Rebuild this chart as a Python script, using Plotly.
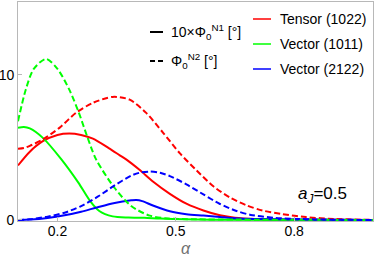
import plotly.graph_objects as go

# ---- data ----
tensor_n1_a = [0.10, 0.13, 0.163, 0.20, 0.23, 0.26, 0.29, 0.33, 0.358, 0.375, 0.408, 0.442, 0.485, 0.527, 0.57, 0.612, 0.65, 0.70, 0.80, 1.00]
tensor_n1_v = [3.75, 4.70, 5.42, 5.85, 5.95, 5.85, 5.60, 4.95, 4.45, 4.15, 3.45, 2.65, 1.80, 1.12, 0.65, 0.32, 0.15, 0.06, 0.01, 0.0]

tensor_n2_a = [0.10, 0.115, 0.13, 0.163, 0.205, 0.247, 0.29, 0.34, 0.383, 0.425, 0.468, 0.51, 0.553, 0.596, 0.638, 0.68, 0.72, 0.77, 0.83, 0.90, 1.00]
tensor_n2_v = [4.90, 4.95, 5.10, 5.54, 6.34, 7.37, 8.06, 8.47, 8.28, 7.37, 6.00, 4.60, 3.40, 2.30, 1.54, 1.00, 0.65, 0.40, 0.20, 0.07, 0.01]

vec1011_n1_a = [0.10, 0.115, 0.13, 0.163, 0.21, 0.253, 0.283, 0.306, 0.34, 0.38, 0.42, 0.46, 0.52, 0.60, 1.00]
vec1011_n1_v = [6.34, 6.40, 6.30, 5.65, 4.17, 2.57, 1.30, 0.62, 0.25, 0.17, 0.15, 0.10, 0.05, 0.02, 0.0]

vec1011_n2_a = [0.10, 0.12, 0.14, 0.171, 0.20, 0.23, 0.254, 0.276, 0.298, 0.345, 0.387, 0.434, 0.48, 0.55, 1.00]
vec1011_n2_v = [6.80, 9.00, 10.40, 11.08, 10.40, 8.97, 7.40, 5.70, 4.17, 2.20, 0.96, 0.30, 0.10, 0.05, 0.0]

vec2122_n1_a = [0.10, 0.13, 0.175, 0.218, 0.26, 0.302, 0.345, 0.387, 0.40, 0.415, 0.442, 0.485, 0.527, 0.57, 0.612, 0.65, 0.70, 0.80, 1.00]
vec2122_n1_v = [0.0, 0.03, 0.14, 0.32, 0.57, 0.88, 1.17, 1.35, 1.38, 1.30, 1.00, 0.60, 0.40, 0.30, 0.20, 0.12, 0.07, 0.03, 0.0]

vec2122_n2_a = [0.10, 0.13, 0.175, 0.218, 0.26, 0.302, 0.345, 0.387, 0.408, 0.434, 0.46, 0.485, 0.527, 0.57, 0.612, 0.654, 0.69, 0.75, 0.85, 1.00]
vec2122_n2_v = [0.0, 0.05, 0.23, 0.50, 0.96, 1.60, 2.38, 3.05, 3.25, 3.33, 3.25, 3.02, 2.45, 1.76, 1.10, 0.62, 0.35, 0.15, 0.04, 0.0]

x_ticks = [0.2, 0.5, 0.8]
x_tick_labels = ["0.2", "0.5", "0.8"]
y_ticks = [0, 10]
y_tick_labels = ["0", "10"]

series_names = ["Tensor (1022)", "Vector (1011)", "Vector (2122)"]
series_colors = ["#ff0000", "#00ff00", "#0000ff"]

FONT = "Liberation Sans, Arial, sans-serif"

fig = go.Figure()
solid = [(tensor_n1_a, tensor_n1_v), (vec1011_n1_a, vec1011_n1_v), (vec2122_n1_a, vec2122_n1_v)]
dashed = [(tensor_n2_a, tensor_n2_v), (vec1011_n2_a, vec1011_n2_v), (vec2122_n2_a, vec2122_n2_v)]
for (a, v), c, n in zip(solid, series_colors, series_names):
    fig.add_trace(go.Scatter(x=a, y=v, mode="lines", name=n,
                             line=dict(color=c, width=2, shape="spline", smoothing=0.8),
                             showlegend=False, hoverinfo="skip"))
for (a, v), c, n in zip(dashed, series_colors, series_names):
    fig.add_trace(go.Scatter(x=a, y=v, mode="lines", name=n,
                             line=dict(color=c, width=2, dash="6px,3px", shape="spline", smoothing=0.8),
                             showlegend=False, hoverinfo="skip"))

axis_common = dict(showline=True, linecolor="#b8b8b8", linewidth=1, mirror=True,
                   ticks="inside", ticklen=4, tickcolor="#b8b8b8",
                   showgrid=False, zeroline=False, automargin=False,
                   tickfont=dict(family=FONT, size=14, color="#000000"))
fig.update_xaxes(range=[0.1, 1.0], tickvals=x_ticks, ticktext=x_tick_labels,
                 ticklabelstandoff=-3, **axis_common)
fig.update_yaxes(range=[-0.07, 15], tickvals=y_ticks, ticktext=y_tick_labels, **axis_common)

# custom legend (paper coordinates)
def px2paper_x(px):
    return (px - 18) / 355.0

def px2paper_y(py):
    return (221 - py) / 219.0

shapes = []
annotations = []
# line-style legend
shapes.append(dict(type="line", xref="paper", yref="paper",
                   x0=px2paper_x(150), x1=px2paper_x(163), y0=px2paper_y(32), y1=px2paper_y(32),
                   line=dict(color="black", width=2)))
shapes.append(dict(type="line", xref="paper", yref="paper",
                   x0=px2paper_x(150), x1=px2paper_x(163), y0=px2paper_y(61), y1=px2paper_y(61),
                   line=dict(color="black", width=2, dash="5px,3px")))
annotations.append(dict(xref="paper", yref="paper", x=px2paper_x(169), y=px2paper_y(32),
                        xanchor="left", yanchor="middle", showarrow=False,
                        text="10×Φ<sub>0</sub><sup>N1</sup> [°]",
                        font=dict(family=FONT, size=14, color="black")))
annotations.append(dict(xref="paper", yref="paper", x=px2paper_x(169), y=px2paper_y(61),
                        xanchor="left", yanchor="middle", showarrow=False,
                        text="Φ<sub>0</sub><sup>N2</sup> [°]",
                        font=dict(family=FONT, size=14, color="black")))
# colour legend
for i, (n, c) in enumerate(zip(series_names, series_colors)):
    py = 19 + i * 25
    shapes.append(dict(type="line", xref="paper", yref="paper",
                       x0=px2paper_x(253), x1=px2paper_x(271), y0=px2paper_y(py), y1=px2paper_y(py),
                       line=dict(color=c, width=1.5)))
    annotations.append(dict(xref="paper", yref="paper", x=px2paper_x(278), y=px2paper_y(py),
                            xanchor="left", yanchor="middle", showarrow=False, text=n,
                            font=dict(family=FONT, size=14, color="black")))

annotations.append(dict(xref="paper", yref="paper", x=px2paper_x(296), y=px2paper_y(195),
                        xanchor="left", yanchor="middle", showarrow=False,
                        text="<i>a</i><sub><i>J</i></sub>=0.5",
                        font=dict(family=FONT, size=17, color="black")))
annotations.append(dict(xref="paper", yref="paper", x=px2paper_x(186), y=px2paper_y(248),
                        xanchor="center", yanchor="middle", showarrow=False,
                        text="<i>α</i>",
                        font=dict(family=FONT, size=16, color="#707070")))

fig.update_layout(width=374, height=258, autosize=False,
                  margin=dict(l=18, r=1, t=2, b=37, pad=0),
                  paper_bgcolor="white", plot_bgcolor="white",
                  shapes=shapes, annotations=annotations)

fig.write_html("out.html", config={"displayModeBar": False, "staticPlot": True},
               post_script="document.body.style.margin='0';document.body.style.padding='0';document.body.style.overflow='hidden';")
